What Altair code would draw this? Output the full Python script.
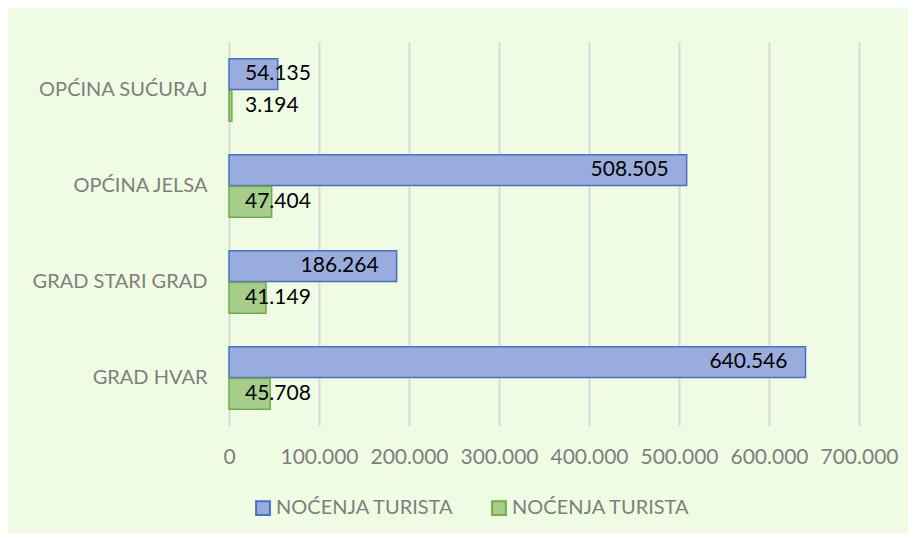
import altair as alt
import pandas as pd

categories = ["OPĆINA SUĆURAJ", "OPĆINA JELSA", "GRAD STARI GRAD", "GRAD HVAR"]
series_keys = ["s1", "s2"]
series_label = "NOĆENJA TURISTA"
values_s1 = [54135, 508505, 186264, 640546]
values_s2 = [3194, 47404, 41149, 45708]
x_ticks = [0, 100000, 200000, 300000, 400000, 500000, 600000, 700000]

rows = []
for c, a, b in zip(categories, values_s1, values_s2):
    rows.append({"cat": c, "series": "s1", "value": a})
    rows.append({"cat": c, "series": "s2", "value": b})
df = pd.DataFrame(rows)

FONT = "Lato"
GREY = "#7F7F7F"
FS = 20
FSN = 21
fmt = "replace(format(datum.value, ','), regexp(',', 'g'), '.')"

y_enc = alt.Y(
    "cat:N", sort=categories, title=None,
    scale=alt.Scale(paddingInner=0.35, paddingOuter=0.175),
    axis=alt.Axis(labelFont=FONT, labelFontSize=FS, labelColor=GREY,
                  labelPadding=22, ticks=False, domain=False, grid=False, labelLimit=0),
)
yoff = alt.YOffset("series:N", sort=series_keys, scale=alt.Scale(paddingInner=0.03))
x_enc = alt.X(
    "value:Q", title=None, scale=alt.Scale(domain=[0, 700000], nice=False),
    axis=alt.Axis(values=x_ticks, labelExpr=fmt, grid=True, gridColor="#D9D9D9",
                  gridWidth=2, ticks=False, domain=False, labelPadding=20,
                  labelOverlap=False, labelFlush=False, labelFont=FONT,
                  labelFontSize=FSN, labelColor=GREY),
)

legend = alt.Legend(title=None, orient="none", legendX=24, legendY=456,
                    direction="horizontal", symbolType="square", symbolSize=190,
                    symbolStrokeWidth=2, labelFont=FONT, labelFontSize=FS, labelLimit=0,
                    labelColor=GREY, columnPadding=34, labelOffset=3,
                    labelExpr="'" + series_label + "'")

base = alt.Chart(df)

bars = base.mark_bar(strokeWidth=1.5).encode(
    y=y_enc, yOffset=yoff, x=x_enc,
    fill=alt.Fill("series:N", scale=alt.Scale(domain=series_keys, range=["#9AACDD", "#A6CE8B"]), legend=legend),
    stroke=alt.Stroke("series:N", scale=alt.Scale(domain=series_keys, range=["#4472C4", "#70AD47"]), legend=legend),
)

big = base.transform_filter("datum.value >= 100000").transform_calculate(
    label=fmt
).mark_text(align="right", dx=-18, fontSize=FSN, font=FONT, color="black", baseline="middle").encode(
    y=alt.Y("cat:N", sort=categories), yOffset=alt.YOffset("series:N", sort=series_keys),
    x="value:Q", text="label:N",
)

small = base.transform_filter("datum.value < 100000").transform_calculate(
    label=fmt, zero="0"
).mark_text(align="left", dx=16, fontSize=FSN, font=FONT, color="black", baseline="middle").encode(
    y=alt.Y("cat:N", sort=categories), yOffset=alt.YOffset("series:N", sort=series_keys),
    x="zero:Q", text="label:N",
)

chart = alt.layer(bars, big, small).properties(
    width=630, height=384,
    padding={"left": 221, "top": 34, "right": 49, "bottom": 107},
    autosize=alt.AutoSizeParams(type="none"),
    background="#EFFBE3",
).configure_view(stroke=None)

chart.save("out.html", embed_options={"renderer": "svg", "actions": False})
